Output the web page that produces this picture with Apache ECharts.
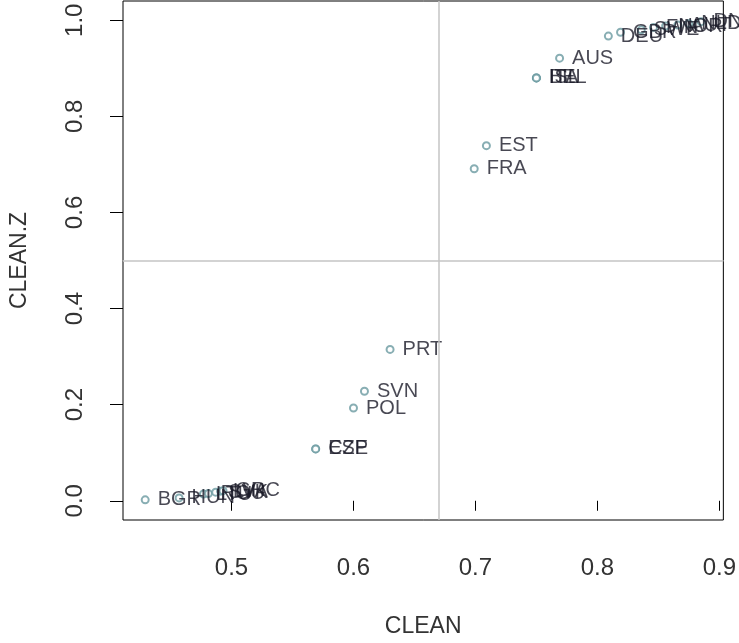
<!DOCTYPE html>
<html>
<head>
<meta charset="utf-8">
<script src="https://cdn.jsdelivr.net/npm/echarts@6/dist/echarts.min.js"></script>
<style>html,body{margin:0;padding:0;background:#fff;}#c{width:739px;height:643px;}</style>
</head>
<body>
<div id="c"></div>
<script>
const countries = ['BGR','HUN','LTU','ROU','SVK','LVA','GRC','CZE','ESP','POL','SVN','PRT','FRA','EST','BEL','ISL','ITA','AUS','DEU','GBR','SWE','FIN','NOR','AUT','NLD','DNK'];
const clean  = [0.4292,0.457,0.477,0.481,0.487,0.491,0.493,0.569,0.569,0.600,0.609,0.630,0.699,0.709,0.750,0.750,0.750,0.769,0.809,0.819,0.836,0.846,0.856,0.866,0.875,0.885];
const cleanZ = [0.002,0.006,0.014,0.015,0.018,0.020,0.021,0.108,0.108,0.193,0.228,0.315,0.691,0.739,0.880,0.880,0.880,0.921,0.967,0.975,0.980,0.985,0.988,0.990,0.993,0.997];
const xTicks = [0.5,0.6,0.7,0.8,0.9];
const yTicks = [0.0,0.2,0.4,0.6,0.8,1.0];
const refX = 0.666, refY = 0.5;

const data = countries.map((n,i)=>({name:n, value:[clean[i], cleanZ[i]]}));
const chart = echarts.init(document.getElementById('c'));
const font = 'Liberation Sans, Arial, sans-serif';
chart.setOption({
  animation:false,
  grid:{left:121,right:11,top:1,bottom:122,show:true,borderColor:'#000',borderWidth:1,backgroundColor:'transparent'},
  xAxis:{type:'value',min:0.411,max:0.9033,
    axisLine:{show:false},splitLine:{show:false},
    axisTick:{show:true,length:10,lineStyle:{color:'#000'},customValues:xTicks},
    axisLabel:{customValues:xTicks,formatter:v=>v.toFixed(1),fontSize:24,color:'#333',fontFamily:font,margin:36},
    name:'CLEAN',nameLocation:'middle',nameGap:95,nameTextStyle:{fontSize:23,color:'#333',fontFamily:font}},
  yAxis:{type:'value',min:-0.04,max:1.04,
    axisLine:{show:false},splitLine:{show:false},
    axisTick:{show:true,length:13,lineStyle:{color:'#000'},customValues:yTicks},
    axisLabel:{customValues:yTicks,formatter:v=>v.toFixed(1),rotate:90,fontSize:24,color:'#333',fontFamily:font,margin:36},
    name:'CLEAN.Z',nameLocation:'middle',nameGap:92,nameTextStyle:{fontSize:23,color:'#333',fontFamily:font}},
  series:[{type:'scatter',data:data,symbol:'emptyCircle',symbolSize:7,
    itemStyle:{color:'#6a9aa0',borderColor:'#6a9aa0',borderWidth:1.5},
    label:{show:true,position:'right',distance:8,formatter:p=>p.name,fontSize:20,color:'#1a1a28',fontFamily:font},
    markLine:{silent:true,symbol:'none',label:{show:false},lineStyle:{color:'#c4c4c4',type:'solid',width:1.5},
      data:[{xAxis:refX},{yAxis:refY}]}
  }]
});
</script>
</body>
</html>
